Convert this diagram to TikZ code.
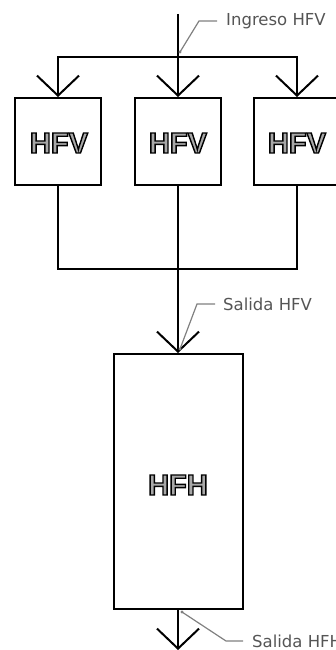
\documentclass[tikz,border=0pt]{standalone}
\usepackage{fontspec}
\setmainfont{DejaVu Sans}
\newfontfamily\boxfont{Liberation Sans}
\usetikzlibrary{arrows.meta}
\definecolor{leadgray}{HTML}{808080}
\definecolor{labgray}{HTML}{555555}
\definecolor{fillgray}{HTML}{A8A8A8}
\newcommand{\outlinetext}[1]{{\color{fillgray}\special{pdf:literal direct 0 0 0 RG 2 Tr 1.4 w}#1\special{pdf:literal direct 0 Tr}}}
\tikzset{
  unitbox/.style={draw=black, line width=2pt, inner sep=0pt},
  pipe/.style={draw=black, line width=2pt},
  flowarrow/.style={-{Straight Barb[length=20pt,width=42pt,line width=2pt]}},
  leader/.style={draw=leadgray, line width=1.2pt},
  lab/.style={anchor=west, text=labgray, font=\fontsize{16.5}{19}\selectfont, inner sep=0pt},
  boxlabel/.style={font=\boxfont\bfseries\fontsize{29}{31}\selectfont, inner sep=0pt}
}
\begin{document}
\begin{tikzpicture}[x=1pt,y=-1pt]
\useasboundingbox (0,0) rectangle (335,650);
% boxes
\node[unitbox, minimum width=86pt, minimum height=87pt] (hfv1) at (58,141.5) {};
\node[unitbox, minimum width=86pt, minimum height=87pt] (hfv2) at (178,141.5) {};
\node[unitbox, minimum width=86pt, minimum height=87pt] (hfv3) at (297,141.5) {};
\node[unitbox, minimum width=129pt, minimum height=255pt] (hfh) at (178,481.5) {};
% box labels
\node[boxlabel] (t1) at (59,143) {\outlinetext{HFV}};
\node[boxlabel] (t2) at (178,143) {\outlinetext{HFV}};
\node[boxlabel] (t3) at (297,143) {\outlinetext{HFV}};
\node[boxlabel] (t4) at (178,485) {\outlinetext{HFH}};
% coordinates
\coordinate (in) at (178,14);
\coordinate (split) at (178,57);
\coordinate (bus) at (178,269);
\coordinate (out) at (178,650);
% inlet distribution
\draw[pipe] (in) -- (split);
\draw[pipe, flowarrow] (split) -- (hfv2.north);
\draw[pipe, flowarrow] (split) -| (hfv1.north);
\draw[pipe, flowarrow] (split) -| (hfv3.north);
% collector
\draw[pipe] (hfv1.south) |- (bus);
\draw[pipe] (hfv3.south) |- (bus);
\draw[pipe, flowarrow] (hfv2.south) -- (hfh.north);
% outlet
\draw[pipe, flowarrow] (hfh.south) -- (out);
% labels
\node[lab] (l1) at (226,21) {Ingreso HFV};
\node[lab] (l2) at (223,304) {Salida HFV};
\node[lab] (l3) at (252,641) {Salida HFH};
% leaders
\coordinate (p1) at (180,52);
\coordinate (p2) at (180,349);
\coordinate (p3) at (182,612);
\draw[leader] (p1) -- (199,21) -- ([xshift=-9pt]l1.west);
\fill[leadgray] (p1) circle (1.6pt);
\draw[leader] (p2) -- (197,304) -- ([xshift=-8pt]l2.west);
\fill[leadgray] (p2) circle (1.6pt);
\draw[leader] (p3) -- (226,641) -- ([xshift=-9pt]l3.west);
\fill[leadgray] (p3) circle (1.6pt);
\end{tikzpicture}
\end{document}
